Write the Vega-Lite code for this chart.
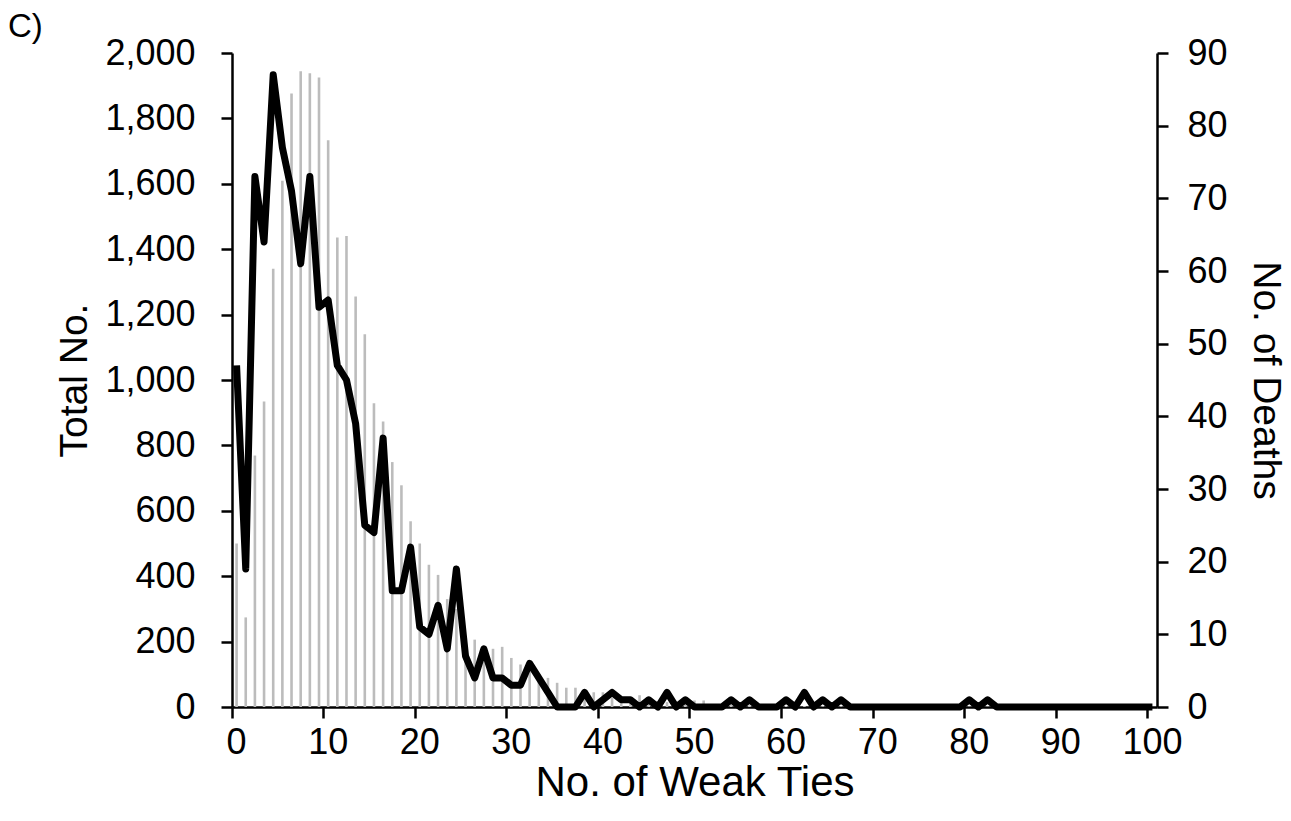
{
  "$schema": "https://vega.github.io/schema/vega-lite/v6.json",
  "autosize": {"type": "none"},
  "width": 925,
  "height": 654,
  "padding": {"left": 232, "top": 53, "right": 134, "bottom": 114},
  "background": "white",
  "title": {"text": "C)", "anchor": "start", "frame": "group", "orient": "top", "dx": -224, "dy": 9, "fontSize": 33, "fontWeight": "normal", "font": "Liberation Sans", "color": "black", "offset": 0},
  "config": {
    "view": {"stroke": null},
    "font": "Liberation Sans",
    "axis": {
      "labelFont": "Liberation Sans",
      "titleFont": "Liberation Sans",
      "labelFontSize": 36,
      "titleFontSize": 39,
      "titleFontWeight": "normal",
      "labelColor": "black",
      "titleColor": "black",
      "domainColor": "black",
      "tickColor": "black",
      "domainWidth": 2.5,
      "tickWidth": 2.5,
      "tickSize": 11,
      "grid": false
    }
  },
  "data": {"values": [
    {"ties": 0, "total": 500, "deaths": 47},
    {"ties": 1, "total": 274, "deaths": 19},
    {"ties": 2, "total": 769, "deaths": 73},
    {"ties": 3, "total": 934, "deaths": 64},
    {"ties": 4, "total": 1340, "deaths": 87},
    {"ties": 5, "total": 1609, "deaths": 77},
    {"ties": 6, "total": 1876, "deaths": 71},
    {"ties": 7, "total": 1944, "deaths": 61},
    {"ties": 8, "total": 1938, "deaths": 73},
    {"ties": 9, "total": 1925, "deaths": 55},
    {"ties": 10, "total": 1733, "deaths": 56},
    {"ties": 11, "total": 1436, "deaths": 47},
    {"ties": 12, "total": 1440, "deaths": 45},
    {"ties": 13, "total": 1255, "deaths": 39},
    {"ties": 14, "total": 1140, "deaths": 25},
    {"ties": 15, "total": 929, "deaths": 24},
    {"ties": 16, "total": 873, "deaths": 37},
    {"ties": 17, "total": 749, "deaths": 16},
    {"ties": 18, "total": 678, "deaths": 16},
    {"ties": 19, "total": 568, "deaths": 22},
    {"ties": 20, "total": 500, "deaths": 11},
    {"ties": 21, "total": 435, "deaths": 10},
    {"ties": 22, "total": 404, "deaths": 14},
    {"ties": 23, "total": 330, "deaths": 8},
    {"ties": 24, "total": 300, "deaths": 19},
    {"ties": 25, "total": 211, "deaths": 7},
    {"ties": 26, "total": 206, "deaths": 4},
    {"ties": 27, "total": 181, "deaths": 8},
    {"ties": 28, "total": 178, "deaths": 4},
    {"ties": 29, "total": 184, "deaths": 4},
    {"ties": 30, "total": 150, "deaths": 3},
    {"ties": 31, "total": 130, "deaths": 3},
    {"ties": 32, "total": 120, "deaths": 6},
    {"ties": 33, "total": 94, "deaths": 4},
    {"ties": 34, "total": 89, "deaths": 2},
    {"ties": 35, "total": 74, "deaths": 0},
    {"ties": 36, "total": 59, "deaths": 0},
    {"ties": 37, "total": 59, "deaths": 0},
    {"ties": 38, "total": 53, "deaths": 2},
    {"ties": 39, "total": 45, "deaths": 0},
    {"ties": 40, "total": 45, "deaths": 1},
    {"ties": 41, "total": 28, "deaths": 2},
    {"ties": 42, "total": 28, "deaths": 1},
    {"ties": 43, "total": 25, "deaths": 1},
    {"ties": 44, "total": 36, "deaths": 0},
    {"ties": 45, "total": 20, "deaths": 1},
    {"ties": 46, "total": 18, "deaths": 0},
    {"ties": 47, "total": 15, "deaths": 2},
    {"ties": 48, "total": 14, "deaths": 0},
    {"ties": 49, "total": 12, "deaths": 1},
    {"ties": 50, "total": 20, "deaths": 0},
    {"ties": 51, "total": 20, "deaths": 0},
    {"ties": 52, "total": 8, "deaths": 0},
    {"ties": 53, "total": 6, "deaths": 0},
    {"ties": 54, "total": 6, "deaths": 1},
    {"ties": 55, "total": 5, "deaths": 0},
    {"ties": 56, "total": 5, "deaths": 1},
    {"ties": 57, "total": 4, "deaths": 0},
    {"ties": 58, "total": 3, "deaths": 0},
    {"ties": 59, "total": 3, "deaths": 0},
    {"ties": 60, "total": 3, "deaths": 1},
    {"ties": 61, "total": 2, "deaths": 0},
    {"ties": 62, "total": 3, "deaths": 2},
    {"ties": 63, "total": 2, "deaths": 0},
    {"ties": 64, "total": 2, "deaths": 1},
    {"ties": 65, "total": 1, "deaths": 0},
    {"ties": 66, "total": 2, "deaths": 1},
    {"ties": 67, "total": 1, "deaths": 0},
    {"ties": 68, "total": 1, "deaths": 0},
    {"ties": 69, "total": 1, "deaths": 0},
    {"ties": 70, "total": 1, "deaths": 0},
    {"ties": 71, "total": 0, "deaths": 0},
    {"ties": 72, "total": 1, "deaths": 0},
    {"ties": 73, "total": 0, "deaths": 0},
    {"ties": 74, "total": 1, "deaths": 0},
    {"ties": 75, "total": 0, "deaths": 0},
    {"ties": 76, "total": 0, "deaths": 0},
    {"ties": 77, "total": 1, "deaths": 0},
    {"ties": 78, "total": 0, "deaths": 0},
    {"ties": 79, "total": 0, "deaths": 0},
    {"ties": 80, "total": 1, "deaths": 1},
    {"ties": 81, "total": 0, "deaths": 0},
    {"ties": 82, "total": 1, "deaths": 1},
    {"ties": 83, "total": 0, "deaths": 0},
    {"ties": 84, "total": 0, "deaths": 0},
    {"ties": 85, "total": 0, "deaths": 0},
    {"ties": 86, "total": 0, "deaths": 0},
    {"ties": 87, "total": 0, "deaths": 0},
    {"ties": 88, "total": 0, "deaths": 0},
    {"ties": 89, "total": 0, "deaths": 0},
    {"ties": 90, "total": 0, "deaths": 0},
    {"ties": 91, "total": 0, "deaths": 0},
    {"ties": 92, "total": 0, "deaths": 0},
    {"ties": 93, "total": 0, "deaths": 0},
    {"ties": 94, "total": 0, "deaths": 0},
    {"ties": 95, "total": 0, "deaths": 0},
    {"ties": 96, "total": 0, "deaths": 0},
    {"ties": 97, "total": 0, "deaths": 0},
    {"ties": 98, "total": 0, "deaths": 0},
    {"ties": 99, "total": 0, "deaths": 0},
    {"ties": 100, "total": 0, "deaths": 0}
  ]},
  "encoding": {
    "x": {
      "field": "ties",
      "type": "ordinal",
      "sort": "ascending",
      "scale": {"paddingInner": 0, "paddingOuter": 0},
      "axis": {
        "title": "No. of Weak Ties",
        "titleFontSize": 42,
        "values": [0, 10, 20, 30, 40, 50, 60, 70, 80, 90, 100],
        "bandPosition": 0,
        "labelAngle": 0,
        "labelPadding": 7,
        "titlePadding": 2
      }
    }
  },
  "layer": [
    {
      "mark": {"type": "bar", "color": "#bcbcbc", "width": 2.6},
      "encoding": {
        "y": {
          "field": "total",
          "type": "quantitative",
          "scale": {"domain": [0, 2000], "nice": false},
          "axis": {
            "title": "Total No.",
            "orient": "left",
            "values": [0, 200, 400, 600, 800, 1000, 1200, 1400, 1600, 1800, 2000],
            "format": ",d",
            "labelPadding": 26,
            "titlePadding": 10
          }
        }
      }
    },
    {
      "mark": {"type": "line", "color": "black", "strokeWidth": 7, "strokeJoin": "round"},
      "encoding": {
        "y": {
          "field": "deaths",
          "type": "quantitative",
          "scale": {"domain": [0, 90], "nice": false},
          "axis": {
            "title": "No. of Deaths",
            "orient": "right",
            "values": [0, 10, 20, 30, 40, 50, 60, 70, 80, 90],
            "labelPadding": 19,
            "titlePadding": 18
          }
        }
      }
    }
  ],
  "resolve": {"scale": {"y": "independent"}}
}
